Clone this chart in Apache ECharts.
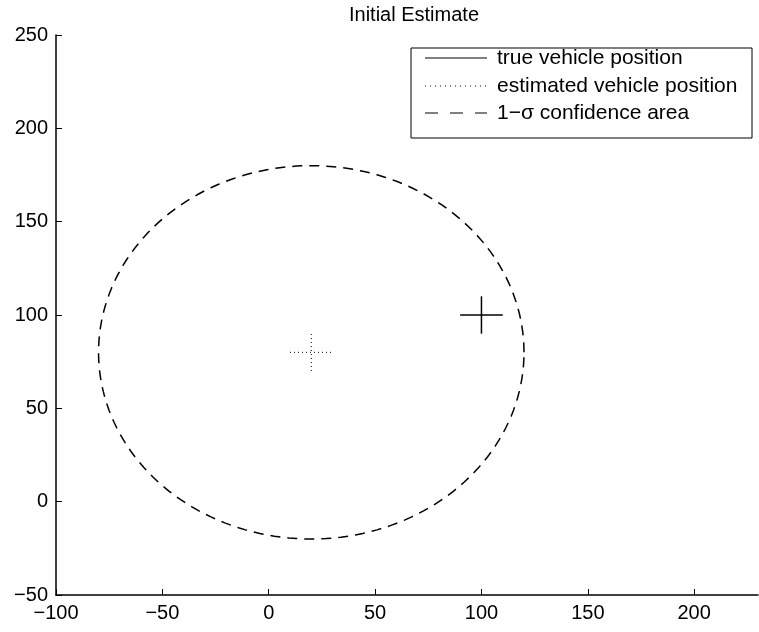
<!DOCTYPE html>
<html>
<head>
<meta charset="utf-8">
<title>Initial Estimate</title>
<script src="https://cdn.jsdelivr.net/npm/echarts@6/dist/echarts.min.js"></script>
<style>
  html, body { margin: 0; padding: 0; background: #fff; }
  #chart { width: 759px; height: 632px; }
</style>
</head>
<body>
<div id="chart"></div>
<script>
// Axis ticks
const xTicks = [-100, -50, 0, 50, 100, 150, 200];
const yTicks = [-50, 0, 50, 100, 150, 200, 250];

// Positions: [x, y]
const truePosition = [100, 100];
const estimatedPosition = [20, 80];

// 1-sigma confidence radius around the estimate, in each axis direction
const sigmaX = 100;
const sigmaY = 100;

// Half-length of the position markers (data units)
const markerHalf = 10;

const FONT = "'Liberation Sans', Arial, Helvetica, sans-serif";
const minus = v => String(v).replace('-', '\u2212');

// Draws a "+" marker centred on a data point
function crossItem(dash, width) {
  return function (params, api) {
    const x = api.value(0), y = api.value(1), h = api.value(2);
    const l = api.coord([x - h, y]), r = api.coord([x + h, y]);
    const b = api.coord([x, y - h]), t = api.coord([x, y + h]);
    const style = { stroke: '#000', lineWidth: width, lineDash: dash };
    return {
      type: 'group',
      children: [
        { type: 'line', shape: { x1: l[0], y1: l[1], x2: r[0], y2: r[1] }, style },
        { type: 'line', shape: { x1: b[0], y1: b[1], x2: t[0], y2: t[1] }, style }
      ]
    };
  };
}

// Draws the confidence ellipse around the estimate
function ellipseItem(params, api) {
  const cx = api.value(0), cy = api.value(1);
  const rx = api.value(2), ry = api.value(3);
  const pts = [];
  const n = 180;
  for (let k = 0; k <= n; k++) {
    const a = (k / n) * Math.PI * 2;
    pts.push(api.coord([cx + rx * Math.cos(a), cy + ry * Math.sin(a)]));
  }
  return {
    type: 'polyline',
    shape: { points: pts },
    style: { stroke: '#000', lineWidth: 1.5, fill: null, lineDash: [10, 7] }
  };
}

const chart = echarts.init(document.getElementById('chart'), null, { renderer: 'canvas' });

const legendLeft = 411, legendTop = 48, legendW = 341, legendH = 90;
const rowY = [58, 86, 113];
const sampleX1 = 425, sampleX2 = 487, textX = 497;
const legendRows = [
  { text: 'true vehicle position', dash: null },
  { text: 'estimated vehicle position', dash: [1, 4] },
  { text: '1\u2212\u03c3 confidence area', dash: [13, 12] }
];

const graphic = [{
  type: 'rect',
  shape: { x: legendLeft, y: legendTop, width: legendW, height: legendH },
  style: { fill: '#fff', stroke: '#000', lineWidth: 1 },
  z: 100
}];
legendRows.forEach((row, i) => {
  graphic.push({
    type: 'line',
    shape: { x1: sampleX1, y1: rowY[i], x2: sampleX2, y2: rowY[i] },
    style: { stroke: '#000', lineWidth: 1, lineDash: row.dash },
    z: 101
  });
  graphic.push({
    type: 'text',
    x: textX, y: rowY[i],
    style: {
      text: row.text, fill: '#000', font: '21px ' + FONT,
      verticalAlign: 'middle', align: 'left'
    },
    z: 101
  });
});

chart.setOption({
  animation: false,
  backgroundColor: '#fff',
  title: {
    text: 'Initial Estimate',
    left: 409,
    top: 0,
    textAlign: 'center',
    textStyle: { color: '#000', fontSize: 20, fontWeight: 'normal', fontFamily: FONT }
  },
  grid: { left: 56, right: 1, top: 35, bottom: 37, containLabel: false },
  xAxis: {
    type: 'value',
    min: -100, max: 230, interval: 50,
    axisLine: { show: true, onZero: false, lineStyle: { color: '#000', width: 1.5 } },
    axisTick: { show: true, inside: true, length: 6, customValues: xTicks, lineStyle: { color: '#000' } },
    axisLabel: {
      customValues: xTicks, margin: 8, color: '#000', fontSize: 20, fontFamily: FONT,
      formatter: minus
    },
    splitLine: { show: false }
  },
  yAxis: {
    type: 'value',
    min: -50, max: 250, interval: 50,
    axisLine: { show: true, onZero: false, lineStyle: { color: '#000', width: 1.5 } },
    axisTick: { show: true, inside: true, length: 6, customValues: yTicks, lineStyle: { color: '#000' } },
    axisLabel: {
      customValues: yTicks, margin: 8, color: '#000', fontSize: 20, fontFamily: FONT,
      formatter: minus
    },
    splitLine: { show: false }
  },
  series: [
    {
      name: 'true vehicle position',
      type: 'custom',
      renderItem: crossItem(null, 1.5),
      data: [[truePosition[0], truePosition[1], markerHalf]]
    },
    {
      name: 'estimated vehicle position',
      type: 'custom',
      renderItem: crossItem([1, 3], 1),
      data: [[estimatedPosition[0], estimatedPosition[1], markerHalf]]
    },
    {
      name: '1-\u03c3 confidence area',
      type: 'custom',
      renderItem: ellipseItem,
      data: [[estimatedPosition[0], estimatedPosition[1], sigmaX, sigmaY]]
    }
  ],
  graphic
});
</script>
</body>
</html>
